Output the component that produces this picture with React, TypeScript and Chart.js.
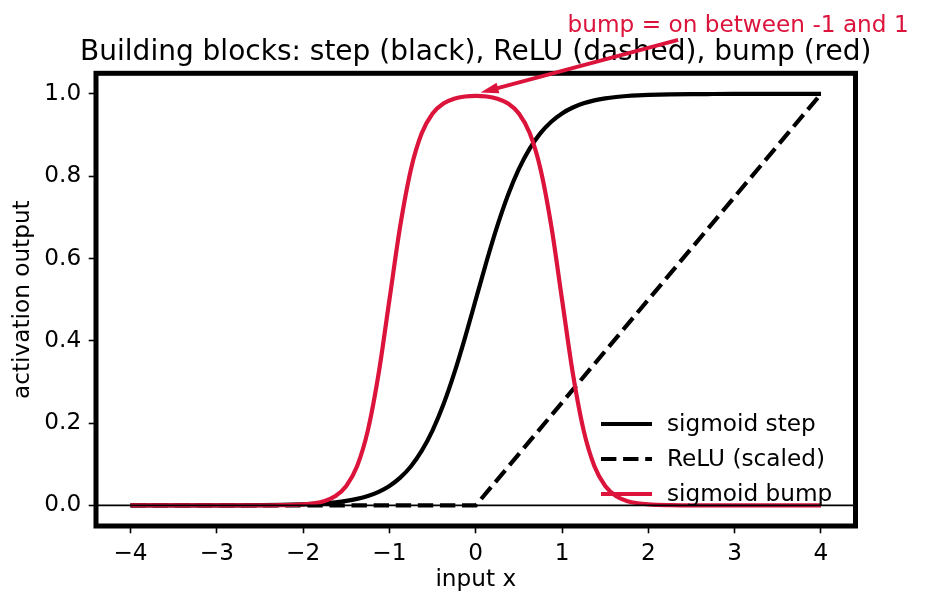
import { useEffect, useRef } from "react";
import { Chart, registerables } from "chart.js";

Chart.register(...registerables);

const FONT = "'DejaVu Sans', 'Liberation Sans', sans-serif";
const RED = "#DC143C";

const TITLE = "Building blocks: step (black), ReLU (dashed), bump (red)";
const X_LABEL = "input x";
const Y_LABEL = "activation output";
const ANNOT_TEXT = "bump = on between -1 and 1";
const ANNOT_XY = [0, 1.0];
const ANNOT_TEXT_XY = [3.04, 1.17];

const xs = [
  -4, -3.75, -3.5, -3.25, -3, -2.75, -2.5, -2.25, -2,
  -1.875, -1.75, -1.625, -1.5, -1.375, -1.25, -1.125, -1,
  -0.875, -0.75, -0.625, -0.5, -0.375, -0.25, -0.125, 0,
  0.125, 0.25, 0.375, 0.5, 0.625, 0.75, 0.875, 1,
  1.125, 1.25, 1.375, 1.5, 1.625, 1.75, 1.875,
  2, 2.25, 2.5, 2.75, 3, 3.25, 3.5, 3.75, 4,
];

const stepY = [
  0, 0, 0, 0.0001, 0.0001, 0.0003, 0.0006, 0.0012, 0.0025,
  0.0036, 0.0052, 0.0076, 0.011, 0.0159, 0.023, 0.0331, 0.0474,
  0.0676, 0.0953, 0.133, 0.1824, 0.2451, 0.3208, 0.4073, 0.5,
  0.5927, 0.6792, 0.7549, 0.8176, 0.867, 0.9047, 0.9324, 0.9526,
  0.9669, 0.977, 0.9841, 0.989, 0.9924, 0.9948, 0.9964,
  0.9975, 0.9988, 0.9994, 0.9997, 0.9999, 0.9999, 1, 1, 1,
];

const bumpY = [
  0, 0, 0, 0, 0, 0, 0.0001, 0.0006, 0.0025,
  0.0052, 0.011, 0.023, 0.0474, 0.0953, 0.1824, 0.3208, 0.5,
  0.6792, 0.8176, 0.9047, 0.9525, 0.9767, 0.9884, 0.9936, 0.9951,
  0.9936, 0.9884, 0.9767, 0.9525, 0.9047, 0.8176, 0.6792, 0.5,
  0.3208, 0.1824, 0.0953, 0.0474, 0.023, 0.011, 0.0052,
  0.0025, 0.0006, 0.0001, 0, 0, 0, 0, 0, 0,
];

const reluX = [-4, 0, 4];
const reluY = [0, 0, 1];

const xTicks = [-4, -3, -2, -1, 0, 1, 2, 3, 4];
const yTicks = [0, 0.2, 0.4, 0.6, 0.8, 1.0];

const SERIES_LABELS = ["sigmoid step", "ReLU (scaled)", "sigmoid bump"];

const DASH = [15.4, 6.7];
const FS = 23.2;

const fmtX = (v: number) => (v < 0 ? "\u2212" + Math.abs(v) : String(v));

const drawPlugin = {
  id: "mplDecor",
  beforeDraw(chart: any) {
    const ctx = chart.ctx;
    ctx.save();
    ctx.fillStyle = "#fff";
    ctx.fillRect(0, 0, chart.width, chart.height);
    ctx.restore();
  },
  afterDraw(chart: any) {
    const ctx = chart.ctx;
    const ca = chart.chartArea;
    const xs_ = chart.scales.x;
    const ys_ = chart.scales.y;
    ctx.save();

    // axhline y=0
    const y0 = ys_.getPixelForValue(0);
    ctx.strokeStyle = "#000";
    ctx.lineWidth = 1.6;
    ctx.beginPath();
    ctx.moveTo(ca.left, y0);
    ctx.lineTo(ca.right, y0);
    ctx.stroke();

    // legend
    const rows = [424, 459, 494];
    const colors = ["#000", "#000", RED];
    const dashes = [[], DASH, []];
    rows.forEach((ry, i) => {
      ctx.strokeStyle = colors[i];
      ctx.lineWidth = 4.2;
      ctx.setLineDash(dashes[i]);
      ctx.beginPath();
      ctx.moveTo(601, ry);
      ctx.lineTo(652, ry);
      ctx.stroke();
      ctx.setLineDash([]);
      ctx.fillStyle = "#000";
      ctx.font = `${FS}px ${FONT}`;
      ctx.textAlign = "left";
      ctx.textBaseline = "middle";
      ctx.fillText(SERIES_LABELS[i], 667, ry + 1);
    });

    // frame
    ctx.strokeStyle = "#000";
    ctx.lineWidth = 5;
    ctx.strokeRect(ca.left, ca.top, ca.right - ca.left, ca.bottom - ca.top);

    // title
    ctx.fillStyle = "#000";
    ctx.font = `28px ${FONT}`;
    ctx.textAlign = "center";
    ctx.textBaseline = "alphabetic";
    ctx.fillText(TITLE, (ca.left + ca.right) / 2, 60);

    // axis labels
    ctx.font = `${FS}px ${FONT}`;
    ctx.fillText(X_LABEL, (ca.left + ca.right) / 2, 586);
    ctx.save();
    ctx.translate(29, (ca.top + ca.bottom) / 2);
    ctx.rotate(-Math.PI / 2);
    ctx.textBaseline = "alphabetic";
    ctx.fillText(Y_LABEL, 0, 0);
    ctx.restore();

    // annotation
    const tx = xs_.getPixelForValue(ANNOT_TEXT_XY[0]);
    const ty = ys_.getPixelForValue(ANNOT_TEXT_XY[1]);
    const px = xs_.getPixelForValue(ANNOT_XY[0]);
    const py = ys_.getPixelForValue(ANNOT_XY[1]);
    ctx.fillStyle = RED;
    ctx.font = `${FS}px ${FONT}`;
    ctx.textAlign = "center";
    ctx.textBaseline = "alphabetic";
    ctx.fillText(ANNOT_TEXT, tx, ty + 8);

    const dx = tx - px;
    const dy = ty - py;
    const len = Math.hypot(dx, dy);
    const ux = dx / len;
    const uy = dy / len;
    const tipX = px + ux * 5;
    const tipY = py + uy * 5;
    const tStart = (py - (ty + 16)) / -uy;
    const sx = px + ux * tStart;
    const sy = py + uy * tStart;
    const L = 18;
    const W = 11;
    ctx.strokeStyle = RED;
    ctx.lineWidth = 3.8;
    ctx.lineCap = "butt";
    ctx.beginPath();
    ctx.moveTo(sx, sy);
    ctx.lineTo(tipX + ux * L * 0.6, tipY + uy * L * 0.6);
    ctx.stroke();
    const bx = tipX + ux * L;
    const by = tipY + uy * L;
    ctx.fillStyle = RED;
    ctx.beginPath();
    ctx.moveTo(tipX, tipY);
    ctx.lineTo(bx - uy * W / 2, by + ux * W / 2);
    ctx.lineTo(bx + uy * W / 2, by - ux * W / 2);
    ctx.closePath();
    ctx.fill();

    ctx.restore();
  },
};

export default function App() {
  const ref = useRef<HTMLCanvasElement | null>(null);

  useEffect(() => {
    if (!ref.current) return;
    const chart = new Chart(ref.current, {
      type: "line",
      data: {
        datasets: [
          {
            label: SERIES_LABELS[0],
            data: xs.map((x, i) => ({ x, y: stepY[i] })),
            borderColor: "#000",
            borderWidth: 4.2,
            pointRadius: 0,
            cubicInterpolationMode: "monotone",
            fill: false,
            order: 2,
          },
          {
            label: SERIES_LABELS[1],
            data: reluX.map((x, i) => ({ x, y: reluY[i] })),
            borderColor: "#000",
            borderWidth: 4.2,
            borderDash: DASH,
            pointRadius: 0,
            tension: 0,
            fill: false,
            order: 1,
          },
          {
            label: SERIES_LABELS[2],
            data: xs.map((x, i) => ({ x, y: bumpY[i] })),
            borderColor: RED,
            borderWidth: 4.2,
            pointRadius: 0,
            cubicInterpolationMode: "monotone",
            fill: false,
            order: 0,
          },
        ],
      },
      options: {
        animation: false,
        responsive: false,
        events: [],
        layout: { padding: { left: 0, right: 71.5, top: 73.3, bottom: 0 } },
        plugins: {
          legend: { display: false },
          title: { display: false },
          tooltip: { enabled: false },
        },
        scales: {
          x: {
            type: "linear",
            min: -4.4,
            max: 4.4,
            afterBuildTicks: (s: any) => {
              s.ticks = xTicks.map((v) => ({ value: v }));
            },
            afterFit: (s: any) => {
              s.height = 81;
            },
            grid: {
              display: true,
              drawOnChartArea: false,
              drawTicks: true,
              tickLength: 7.3,
              tickWidth: 1.6,
              tickColor: "#000",
            },
            border: { display: false },
            ticks: {
              color: "#000",
              font: { family: FONT, size: FS },
              padding: 7,
              maxRotation: 0,
              autoSkip: false,
              callback: (v: any) => fmtX(Number(v)),
            },
          },
          y: {
            type: "linear",
            min: -0.05,
            max: 1.05,
            afterBuildTicks: (s: any) => {
              s.ticks = yTicks.map((v) => ({ value: v }));
            },
            afterFit: (s: any) => {
              s.width = 96;
            },
            grid: {
              display: true,
              drawOnChartArea: false,
              drawTicks: true,
              tickLength: 7.3,
              tickWidth: 1.6,
              tickColor: "#000",
            },
            border: { display: false },
            ticks: {
              color: "#000",
              font: { family: FONT, size: FS },
              padding: 7.5,
              autoSkip: false,
              callback: (v: any) => Number(v).toFixed(1),
            },
          },
        },
      },
      plugins: [drawPlugin],
    } as any);
    return () => chart.destroy();
  }, []);

  return (
    <div style={{ position: "fixed", left: 0, top: 0, width: 927, height: 607, background: "#fff" }}>
      <canvas ref={ref} width={927} height={607} style={{ width: 927, height: 607 }} />
    </div>
  );
}
